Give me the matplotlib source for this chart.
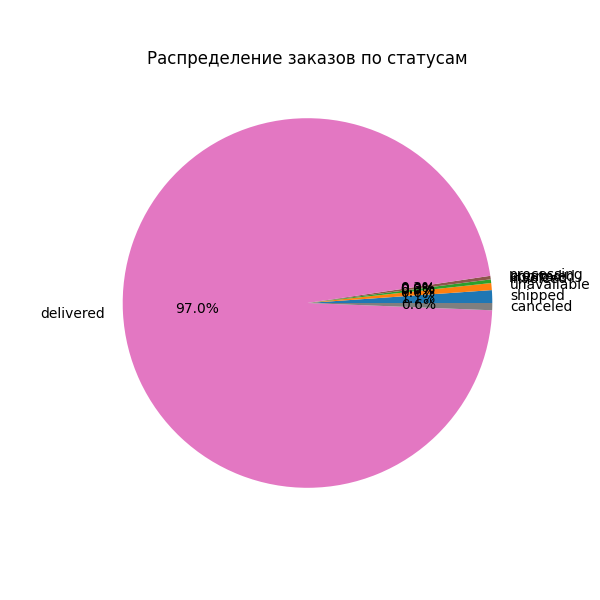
import matplotlib.pyplot as plt

statuses = ['shipped', 'unavailable', 'invoiced', 'created', 'approved',
            'processing', 'delivered', 'canceled']
counts = [1107, 609, 314, 5, 2, 301, 96478, 625]

plt.figure(figsize=(6, 6))
plt.pie(counts, labels=statuses, autopct='%1.1f%%')
plt.title('Распределение заказов по статусам')
plt.savefig('out.png', dpi=100)
